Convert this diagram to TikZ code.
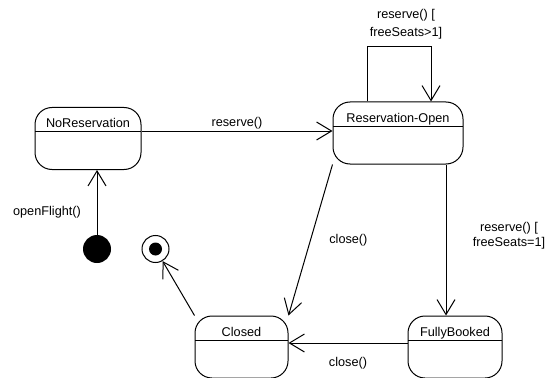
\documentclass[tikz,border=0pt]{standalone}
\usepackage{fontspec}
\setmainfont{Liberation Sans}
\usepackage{tikz}
\usetikzlibrary{arrows.meta}

\tikzset{
  state/.style={draw, rounded corners=17pt, minimum width=#1, minimum height=62pt, inner sep=0pt,
    path picture={\draw ([yshift=-24pt]path picture bounding box.north west) -- ([yshift=-24pt]path picture bounding box.north east);}},
  statename/.style={anchor=base, yshift=-21pt, inner sep=0pt},
  initial/.style={circle, fill, minimum size=28pt, inner sep=0pt},
  final/.style={circle, draw, minimum size=27pt, inner sep=0pt,
    path picture={\fill (path picture bounding box.center) circle (6.5pt);}},
}

\begin{document}
\begin{tikzpicture}[x=1pt, y=-1pt, line width=1pt, >={Straight Barb[length=15pt,width=18pt]},
    font=\fontsize{12.7}{18}\selectfont]
    \useasboundingbox (0,0) rectangle (548,377);
    \node[state=106pt, label={[statename]north:NoReservation}] (noRes) at (88,138.5) {};
    \node[state=130pt, label={[statename]north:Reservation-Open}] (resOpen) at (398,133) {};
    \node[state=93pt, label={[statename]north:Closed}] (closed) at (241.5,347) {};
    \node[state=94pt, label={[statename]north:FullyBooked}] (fullyBooked) at (455,347) {};
    \node[initial] (start) at (97,249) {};
    \node[final] (end) at (155.5,249) {};
    \node (openLabel) at (47,212) {openFlight()};
    \node[align=center] (loopLabel) at (406,24) {reserve() [\\freeSeats>1]};
    \node[align=center, font=\fontsize{12.7}{15}\selectfont] (fullLabel) at (509,235.5) {reserve() [\\freeSeats=1]};
    \draw[->] (start) -- (start |- noRes.south);
    \draw[->] ([yshift=7.5pt]noRes.east) -- ([yshift=7.5pt]noRes.east -| resOpen.west) node[midway, above, inner sep=1pt] {reserve()};
    \draw[->] ([xshift=-31pt]resOpen.north) |- ([xshift=33pt,yshift=55pt]resOpen.north) -- ([xshift=33pt]resOpen.north);
    \draw[->] (resOpen.south west) -- (closed.north east) node[midway, right=15pt] {close()};
    \draw[->] ([xshift=48pt]resOpen.south) -- ([xshift=48pt]resOpen.south |- fullyBooked.north);
    \draw[->] ([yshift=4pt]fullyBooked.west) -- ([yshift=4pt]fullyBooked.west -| closed.east) node[midway, below=10pt] {close()};
    \draw[->] (closed.north west) -- (end);
\end{tikzpicture}
\end{document}
